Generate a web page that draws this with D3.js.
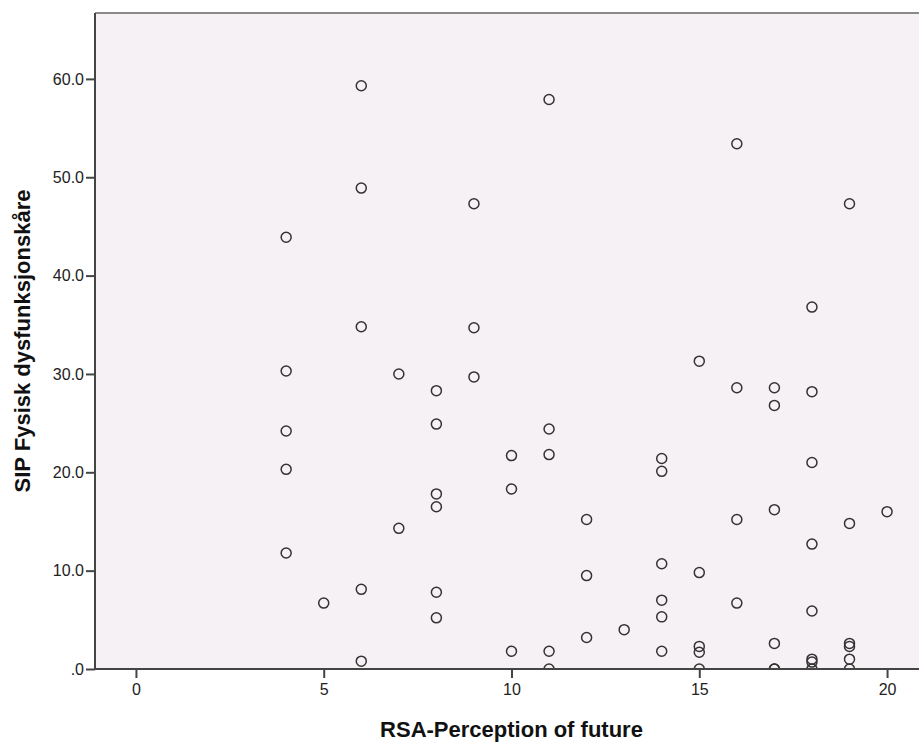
<!DOCTYPE html>
<html>
<head>
<meta charset="utf-8">
<script src="https://cdn.jsdelivr.net/npm/d3@7"></script>
<style>
    body { margin: 0; background: #fff; }
    svg { display: block; font-family: Arial, "Liberation Sans", sans-serif; }
</style>
</head>
<body>
<svg id="chart" width="919" height="745"></svg>
<script>
// RSA-Perception of future (x) vs SIP Fysisk dysfunksjonskåre (y), one entry per respondent
const rsaScores = [
    4, 4, 4, 4, 4,
    5,
    6, 6, 6, 6, 6,
    7, 7,
    8, 8, 8, 8, 8, 8,
    9, 9, 9,
    10, 10, 10,
    11, 11, 11, 11, 11,
    12, 12, 12,
    13,
    14, 14, 14, 14, 14, 14,
    15, 15, 15, 15, 15,
    16, 16, 16, 16,
    17, 17, 17, 17, 17, 17,
    18, 18, 18, 18, 18, 18, 18, 18,
    19, 19, 19, 19, 19, 19,
    20
];
const sipScores = [
    43.9, 30.3, 24.2, 20.3, 11.8,
    6.7,
    59.3, 48.9, 34.8, 8.1, 0.8,
    30.0, 14.3,
    28.3, 24.9, 17.8, 16.5, 7.8, 5.2,
    47.3, 34.7, 29.7,
    21.7, 18.3, 1.8,
    57.9, 24.4, 21.8, 1.8, 0.0,
    15.2, 9.5, 3.2,
    4.0,
    21.4, 20.1, 10.7, 7.0, 5.3, 1.8,
    31.3, 9.8, 2.3, 1.7, 0.0,
    53.4, 28.6, 15.2, 6.7,
    28.6, 26.8, 16.2, 2.6, 0.0, 0.0,
    36.8, 28.2, 21.0, 12.7, 5.9, 1.0, 0.7, 0.0,
    47.3, 14.8, 2.6, 2.3, 1.0, 0.0,
    16.0
];
const xTicks = [0, 5, 10, 15, 20];
const yTicks = [0, 10, 20, 30, 40, 50, 60];
const xTitle = "RSA-Perception of future";
const yTitle = "SIP Fysisk dysfunksjonskåre";

const svg = d3.select("#chart");
const plotLeft = 95, plotRight = 928, plotTop = 13, plotBottom = 669;

const xScale = d3.scaleLinear().domain([-1.09, 21.09]).range([plotLeft, plotRight]);
const yScale = d3.scaleLinear().domain([0, 66.7]).range([plotBottom, plotTop]);

// plot background + clip
svg.append("defs").append("clipPath").attr("id", "plotClip")
    .append("rect")
    .attr("x", plotLeft).attr("y", plotTop)
    .attr("width", plotRight - plotLeft).attr("height", plotBottom - plotTop);

svg.append("rect")
    .attr("x", plotLeft).attr("y", plotTop)
    .attr("width", plotRight - plotLeft).attr("height", plotBottom - plotTop)
    .attr("fill", "#f5f1f5");

// top frame line
svg.append("line")
    .attr("x1", plotLeft).attr("x2", plotRight)
    .attr("y1", plotTop).attr("y2", plotTop)
    .attr("stroke", "#8a8a8a").attr("stroke-width", 2);

// points
svg.append("g")
    .attr("clip-path", "url(#plotClip)")
    .selectAll("circle")
    .data(rsaScores.map((x, i) => ({ x: x, y: sipScores[i] })))
    .enter()
    .append("circle")
    .attr("cx", d => xScale(d.x))
    .attr("cy", d => yScale(d.y))
    .attr("r", 5)
    .attr("fill", "none")
    .attr("stroke", "#333")
    .attr("stroke-width", 1.5);

// axes
const xAxis = d3.axisBottom(xScale).tickValues(xTicks).tickSize(9).tickPadding(6)
    .tickFormat(d3.format("d"));
const yAxis = d3.axisLeft(yScale).tickValues(yTicks).tickSize(9).tickPadding(2)
    .tickFormat(d => d === 0 ? ".0" : d.toFixed(1));

const gx = svg.append("g")
    .attr("transform", `translate(0, ${plotBottom})`)
    .call(xAxis);
const gy = svg.append("g")
    .attr("transform", `translate(${plotLeft}, 0)`)
    .call(yAxis);

[gx, gy].forEach(g => {
    g.select(".domain").attr("stroke", "#444").attr("stroke-width", 2);
    g.selectAll(".tick line").attr("stroke", "#444").attr("stroke-width", 2);
    g.selectAll(".tick text")
        .attr("fill", "#222")
        .style("font-size", "16px")
        .style("font-family", "Arial, 'Liberation Sans', sans-serif");
});
gx.select(".domain").attr("d", `M${plotLeft},0H${plotRight}`);
gy.select(".domain").attr("d", `M0,${plotTop}V${plotBottom}`);

// titles
svg.append("text")
    .attr("x", (plotLeft + plotRight) / 2)
    .attr("y", 737)
    .attr("text-anchor", "middle")
    .attr("font-weight", "bold")
    .attr("font-size", 22)
    .attr("fill", "#111")
    .text(xTitle);

svg.append("text")
    .attr("transform", `translate(30, ${(plotTop + plotBottom) / 2}) rotate(-90)`)
    .attr("text-anchor", "middle")
    .attr("font-weight", "bold")
    .attr("font-size", 22)
    .attr("fill", "#111")
    .text(yTitle);
</script>
</body>
</html>
